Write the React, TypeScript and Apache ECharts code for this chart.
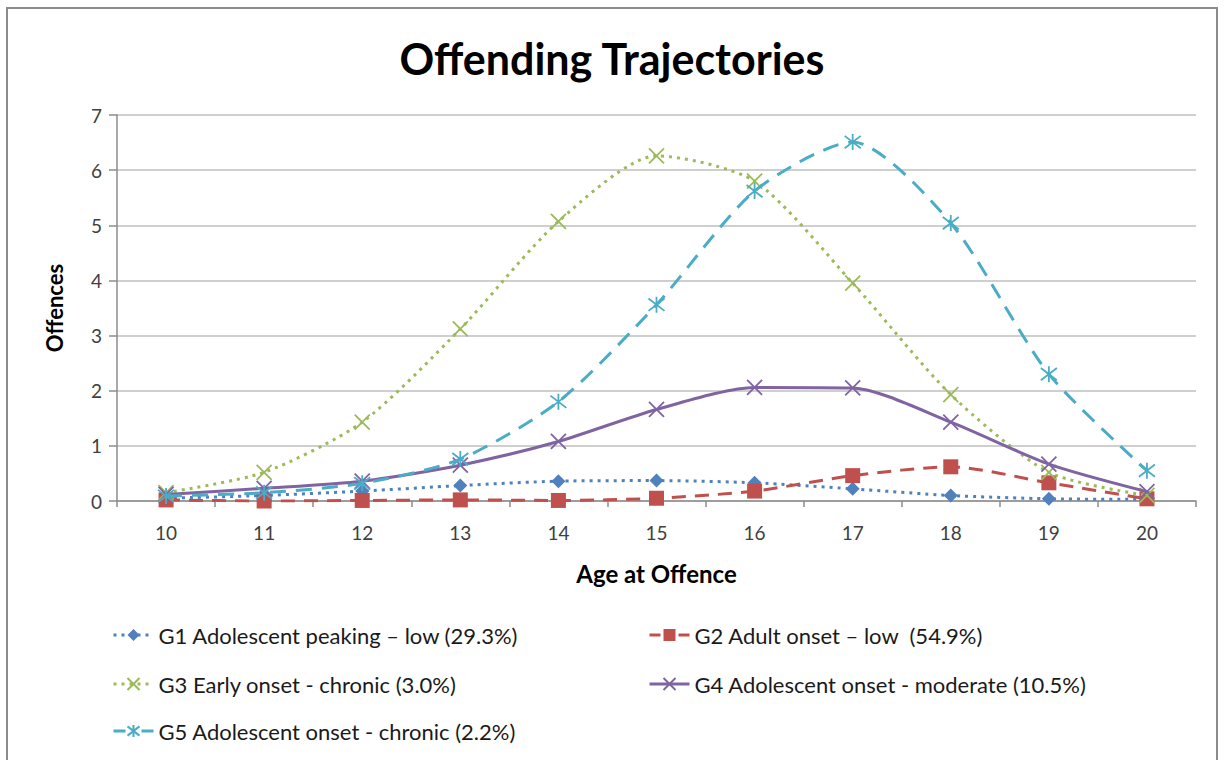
import React, { useEffect, useRef } from "react";
import * as echarts from "echarts";

const ages = ["10", "11", "12", "13", "14", "15", "16", "17", "18", "19", "20"];
const seriesNames = [
  "G1 Adolescent peaking \u2013 low (29.3%)",
  "G2 Adult onset \u2013 low  (54.9%)",
  "G3 Early onset - chronic (3.0%)",
  "G4 Adolescent onset - moderate (10.5%)",
  "G5 Adolescent onset - chronic (2.2%)",
];
const g1 = [0.05, 0.1, 0.18, 0.28, 0.36, 0.37, 0.33, 0.22, 0.1, 0.04, 0.03];
const g2 = [0.02, 0.0, 0.01, 0.02, 0.01, 0.05, 0.18, 0.46, 0.62, 0.33, 0.04];
const g3 = [0.15, 0.52, 1.43, 3.12, 5.07, 6.26, 5.8, 3.95, 1.93, 0.52, 0.1];
const g4 = [0.12, 0.23, 0.36, 0.65, 1.08, 1.66, 2.06, 2.05, 1.43, 0.67, 0.17];
const g5 = [0.09, 0.15, 0.32, 0.76, 1.8, 3.56, 5.62, 6.51, 5.04, 2.3, 0.55];

const FONT = "Lato, 'Open Sans', sans-serif";
const xSym = "path://M0,0L10,10M10,0L0,10";
const starSym = "path://M0,0L10,10M10,0L0,10M5,-1.5L5,11.5";

const colors = ["#4F81BD", "#C0504D", "#9BBB59", "#8064A2", "#4BACC6"];
const dashes: any[] = [[3, 5], [14, 9], [3, 5], "solid", [16, 10]];
const legendDashes: any[] = [[3, 5], [11, 18], [3, 5], "solid", [12, 16]];

export default function App() {
  const ref = useRef<HTMLDivElement>(null);
  useEffect(() => {
    if (!ref.current) return;
    const chart = echarts.init(ref.current, undefined, { renderer: "svg" });
    const mk = (
      i: number,
      data: number[],
      symbol: string,
      size: number,
      stroked: boolean
    ) => ({
      name: seriesNames[i],
      type: "line",
      data,
      smooth: 0.25,
      symbol,
      symbolSize: size,
      showSymbol: true,
      z: 2 + i,
      lineStyle: { color: colors[i], width: 3, type: dashes[i] },
      itemStyle: stroked
        ? { color: colors[i], borderColor: colors[i], borderWidth: 1.8 }
        : { color: colors[i], borderWidth: 0 },
      emphasis: { disabled: true },
    });
    const legendPos = [
      { left: 112, top: 624 },
      { left: 648, top: 624 },
      { left: 112, top: 673 },
      { left: 648, top: 673 },
      { left: 112, top: 720 },
    ];
    chart.setOption({
      animation: false,
      backgroundColor: "#ffffff",
      title: {
        text: "Offending Trajectories",
        left: "center",
        top: 32,
        textStyle: { fontFamily: FONT, fontSize: 43, fontWeight: "bold", color: "#000" },
      },
      legend: legendPos.map((p, i) => ({
        data: [seriesNames[i]],
        left: p.left,
        top: p.top,
        padding: 0,
        itemWidth: 40,
        itemHeight: 15,
        selectedMode: false,
        lineStyle: { type: legendDashes[i], width: 3 },
        textStyle: { fontFamily: FONT, fontSize: 22, color: "#1a1a1a" },
      })),
      grid: { left: 117, right: 28, top: 115, bottom: 259, containLabel: false },
      xAxis: {
        type: "category",
        data: ages,
        boundaryGap: true,
        name: "Age at Offence",
        nameLocation: "middle",
        nameGap: 60,
        nameTextStyle: { fontFamily: FONT, fontSize: 24, fontWeight: "bold", color: "#000" },
        axisLine: { lineStyle: { color: "#8c8c8c", width: 1.5 } },
        axisTick: { show: true, length: 6, lineStyle: { color: "#8c8c8c", width: 1.5 } },
        axisLabel: { fontFamily: FONT, fontSize: 19, color: "#404040", margin: 22 },
        splitLine: { show: false },
      },
      yAxis: {
        type: "value",
        min: 0,
        max: 7,
        interval: 1,
        name: "Offences",
        nameLocation: "middle",
        nameGap: 52,
        nameTextStyle: { fontFamily: FONT, fontSize: 22, fontWeight: "bold", color: "#000" },
        axisLine: { show: true, lineStyle: { color: "#8c8c8c", width: 1.5 } },
        axisTick: { show: true, length: 8, lineStyle: { color: "#8c8c8c", width: 1.5 } },
        axisLabel: { fontFamily: FONT, fontSize: 19, color: "#404040", margin: 15 },
        splitLine: { show: true, lineStyle: { color: "#bfbfbf", width: 1.5 } },
      },
      graphic: [
        {
          type: "rect",
          shape: { x: 7, y: 8, width: 1210, height: 800 },
          style: { fill: "none", stroke: "#8c8c8c", lineWidth: 2 },
          silent: true,
        },
      ],
      series: [
        mk(0, g1, "diamond", 14, false),
        mk(1, g2, "rect", 15, false),
        mk(2, g3, xSym, 15, true),
        mk(3, g4, xSym, 15, true),
        mk(4, g5, starSym, 16, true),
      ],
    });
    return () => chart.dispose();
  }, []);
  return (
    <div
      ref={ref}
      style={{ position: "absolute", left: 0, top: 0, width: 1224, height: 760 }}
    />
  );
}
